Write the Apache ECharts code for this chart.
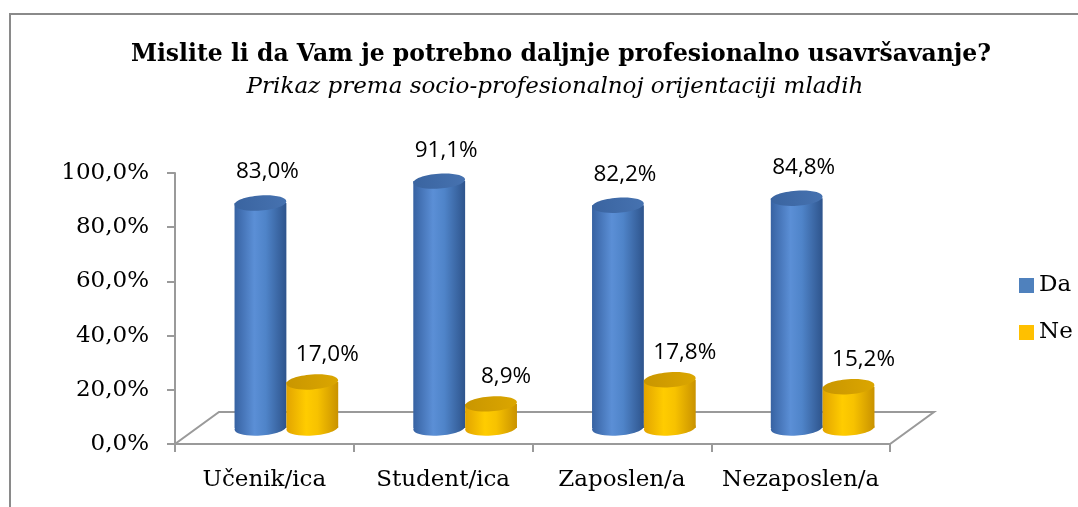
<!DOCTYPE html>
<html>
<head>
<meta charset="utf-8">
<title>Profesionalno usavršavanje</title>
<script src="https://cdn.jsdelivr.net/npm/echarts@6/dist/echarts.min.js"></script>
<style>
  html, body { margin: 0; padding: 0; background: #fff; }
  #chart { width: 1078px; height: 507px; }
</style>
</head>
<body>
<div id="chart"></div>
<script>
// podaci
var categories = ['Učenik/ica', 'Student/ica', 'Zaposlen/a', 'Nezaposlen/a']
var seriesNames = ['Da', 'Ne']
var daValues = [83.0, 91.1, 82.2, 84.8]
var neValues = [17.0, 8.9, 17.8, 15.2]
var yTicks = [0, 20, 40, 60, 80, 100]

// 3D izgled (pomak dubine poda)
var DEPTH_X = 44
var DEPTH_Y = -32
var GRAY = '#9a9a9a'

function fmt (v) {
  return v.toFixed(1).replace('.', ',') + '%'
}

var styles = {
  Da: {
    body: ['#3762a2', '#5b8fd6', '#4f84c9', '#2e548c'],
    top: ['#3a64a0', '#4672b0'],
    legend: '#4f81bd',
    labelDx: 7, labelDy: -31
  },
  Ne: {
    body: ['#e2a400', '#ffcc00', '#f7c200', '#c99200'],
    top: ['#c99600', '#dba600'],
    legend: '#ffc000',
    labelDx: 15, labelDy: -27
  }
}

function grad (c) {
  return new echarts.graphic.LinearGradient(0, 0, 1, 0, [
    { offset: 0, color: c[0] },
    { offset: 0.38, color: c[1] },
    { offset: 0.6, color: c[2] },
    { offset: 1, color: c[3] }
  ])
}

function cylinder (name, side) {
  var st = styles[name]
  return function (params, api) {
    var idx = api.value(0)
    var val = api.value(1)
    var band = api.size([1, 0])[0]
    var w = band * 0.29
    var rx = w / 2
    var ry = 7.5
    var base = api.coord([idx, 0])
    var top = api.coord([idx, val])
    var cx = base[0] + DEPTH_X / 2 + side * rx
    var by = base[1] + DEPTH_Y / 2
    var ty = top[1] + DEPTH_Y / 2
    var rot = 0.07
    return {
      type: 'group',
      children: [
        {
          type: 'ellipse',
          shape: { cx: cx, cy: by, rx: rx, ry: ry },
          originX: cx, originY: by, rotation: rot,
          style: { fill: grad(st.body) }
        },
        {
          type: 'rect',
          shape: { x: cx - rx, y: ty, width: w, height: by - ty },
          style: { fill: grad(st.body) }
        },
        {
          type: 'ellipse',
          shape: { cx: cx, cy: ty, rx: rx, ry: ry },
          originX: cx, originY: ty, rotation: rot,
          style: {
            fill: new echarts.graphic.LinearGradient(0, 0, 1, 0, [
              { offset: 0, color: st.top[0] },
              { offset: 1, color: st.top[1] }
            ])
          }
        },
        {
          type: 'text',
          style: {
            text: fmt(val),
            x: cx + st.labelDx,
            y: ty + st.labelDy,
            align: 'center',
            verticalAlign: 'middle',
            fill: '#000',
            font: '22.5px "Open Sans"'
          }
        }
      ]
    }
  }
}

// pod (paralelogram)
function floor (params, api) {
  var band = api.size([1, 0])[0]
  var p0 = api.coord([0, 0])
  var p1 = api.coord([categories.length - 1, 0])
  var left = p0[0] - band / 2
  var right = p1[0] + band / 2
  var y = p0[1]
  return {
    type: 'polygon',
    shape: {
      points: [
        [left, y], [right, y],
        [right + DEPTH_X, y + DEPTH_Y], [left + DEPTH_X, y + DEPTH_Y]
      ]
    },
    style: { fill: 'none', stroke: GRAY, lineWidth: 2 }
  }
}

var chart = echarts.init(document.getElementById('chart'))
var option = {
  animation: false,
  title: [
    {
      text: 'Mislite li da Vam je potrebno daljnje profesionalno usavršavanje?',
      left: 556, top: 38, textAlign: 'center',
      textStyle: { fontFamily: 'DejaVu Serif', fontWeight: 'bold', fontSize: 23.5, color: '#000' }
    },
    {
      text: 'Prikaz prema socio-profesionalnoj orijentaciji mladih',
      left: 550, top: 71, textAlign: 'center',
      textStyle: { fontFamily: 'DejaVu Serif', fontStyle: 'italic', fontWeight: 'normal', fontSize: 23, color: '#000' }
    }
  ],
  graphic: [
    {
      type: 'rect',
      shape: { x: 10, y: 14, width: 1200, height: 700 },
      style: { fill: 'none', stroke: '#8a8a8a', lineWidth: 2 },
      silent: true
    }
  ],
  legend: {
    data: seriesNames,
    orient: 'vertical',
    left: 1014,
    top: 269,
    itemWidth: 15,
    itemHeight: 15,
    itemGap: 24,
    icon: 'rect',
    textStyle: { fontFamily: 'DejaVu Serif', fontSize: 23, color: '#000' }
  },
  grid: { left: 175, right: 188, top: 173, bottom: 63 },
  xAxis: {
    type: 'category',
    data: categories,
    boundaryGap: true,
    axisLine: { lineStyle: { color: GRAY, width: 2 } },
    axisTick: { show: true, interval: 0, length: 8, alignWithLabel: false, lineStyle: { color: GRAY, width: 2 } },
    axisLabel: { interval: 0, margin: 25, fontFamily: 'DejaVu Serif', fontSize: 23, color: '#000' }
  },
  yAxis: {
    type: 'value',
    min: yTicks[0],
    max: yTicks[yTicks.length - 1],
    interval: yTicks[1] - yTicks[0],
    splitLine: { show: false },
    axisLine: { show: true, lineStyle: { color: GRAY, width: 2 } },
    axisTick: { show: true, length: 8, lineStyle: { color: GRAY, width: 2 } },
    axisLabel: {
      margin: 26,
      fontFamily: 'DejaVu Serif',
      fontSize: 23,
      color: '#000',
      formatter: function (v) { return fmt(v) }
    }
  },
  series: [
    {
      name: 'pod',
      type: 'custom',
      renderItem: floor,
      data: [[0, 0]],
      z: 1,
      silent: true
    },
    {
      name: 'Da',
      type: 'custom',
      renderItem: cylinder('Da', -1),
      itemStyle: { color: styles.Da.legend },
      encode: { x: 0, y: 1 },
      data: daValues.map(function (v, i) { return [i, v] }),
      z: 2
    },
    {
      name: 'Ne',
      type: 'custom',
      renderItem: cylinder('Ne', 1),
      itemStyle: { color: styles.Ne.legend },
      encode: { x: 0, y: 1 },
      data: neValues.map(function (v, i) { return [i, v] }),
      z: 3
    }
  ]
}
chart.setOption(option)
window.addEventListener('resize', () => {
  chart.resize()
})
</script>
</body>
</html>
